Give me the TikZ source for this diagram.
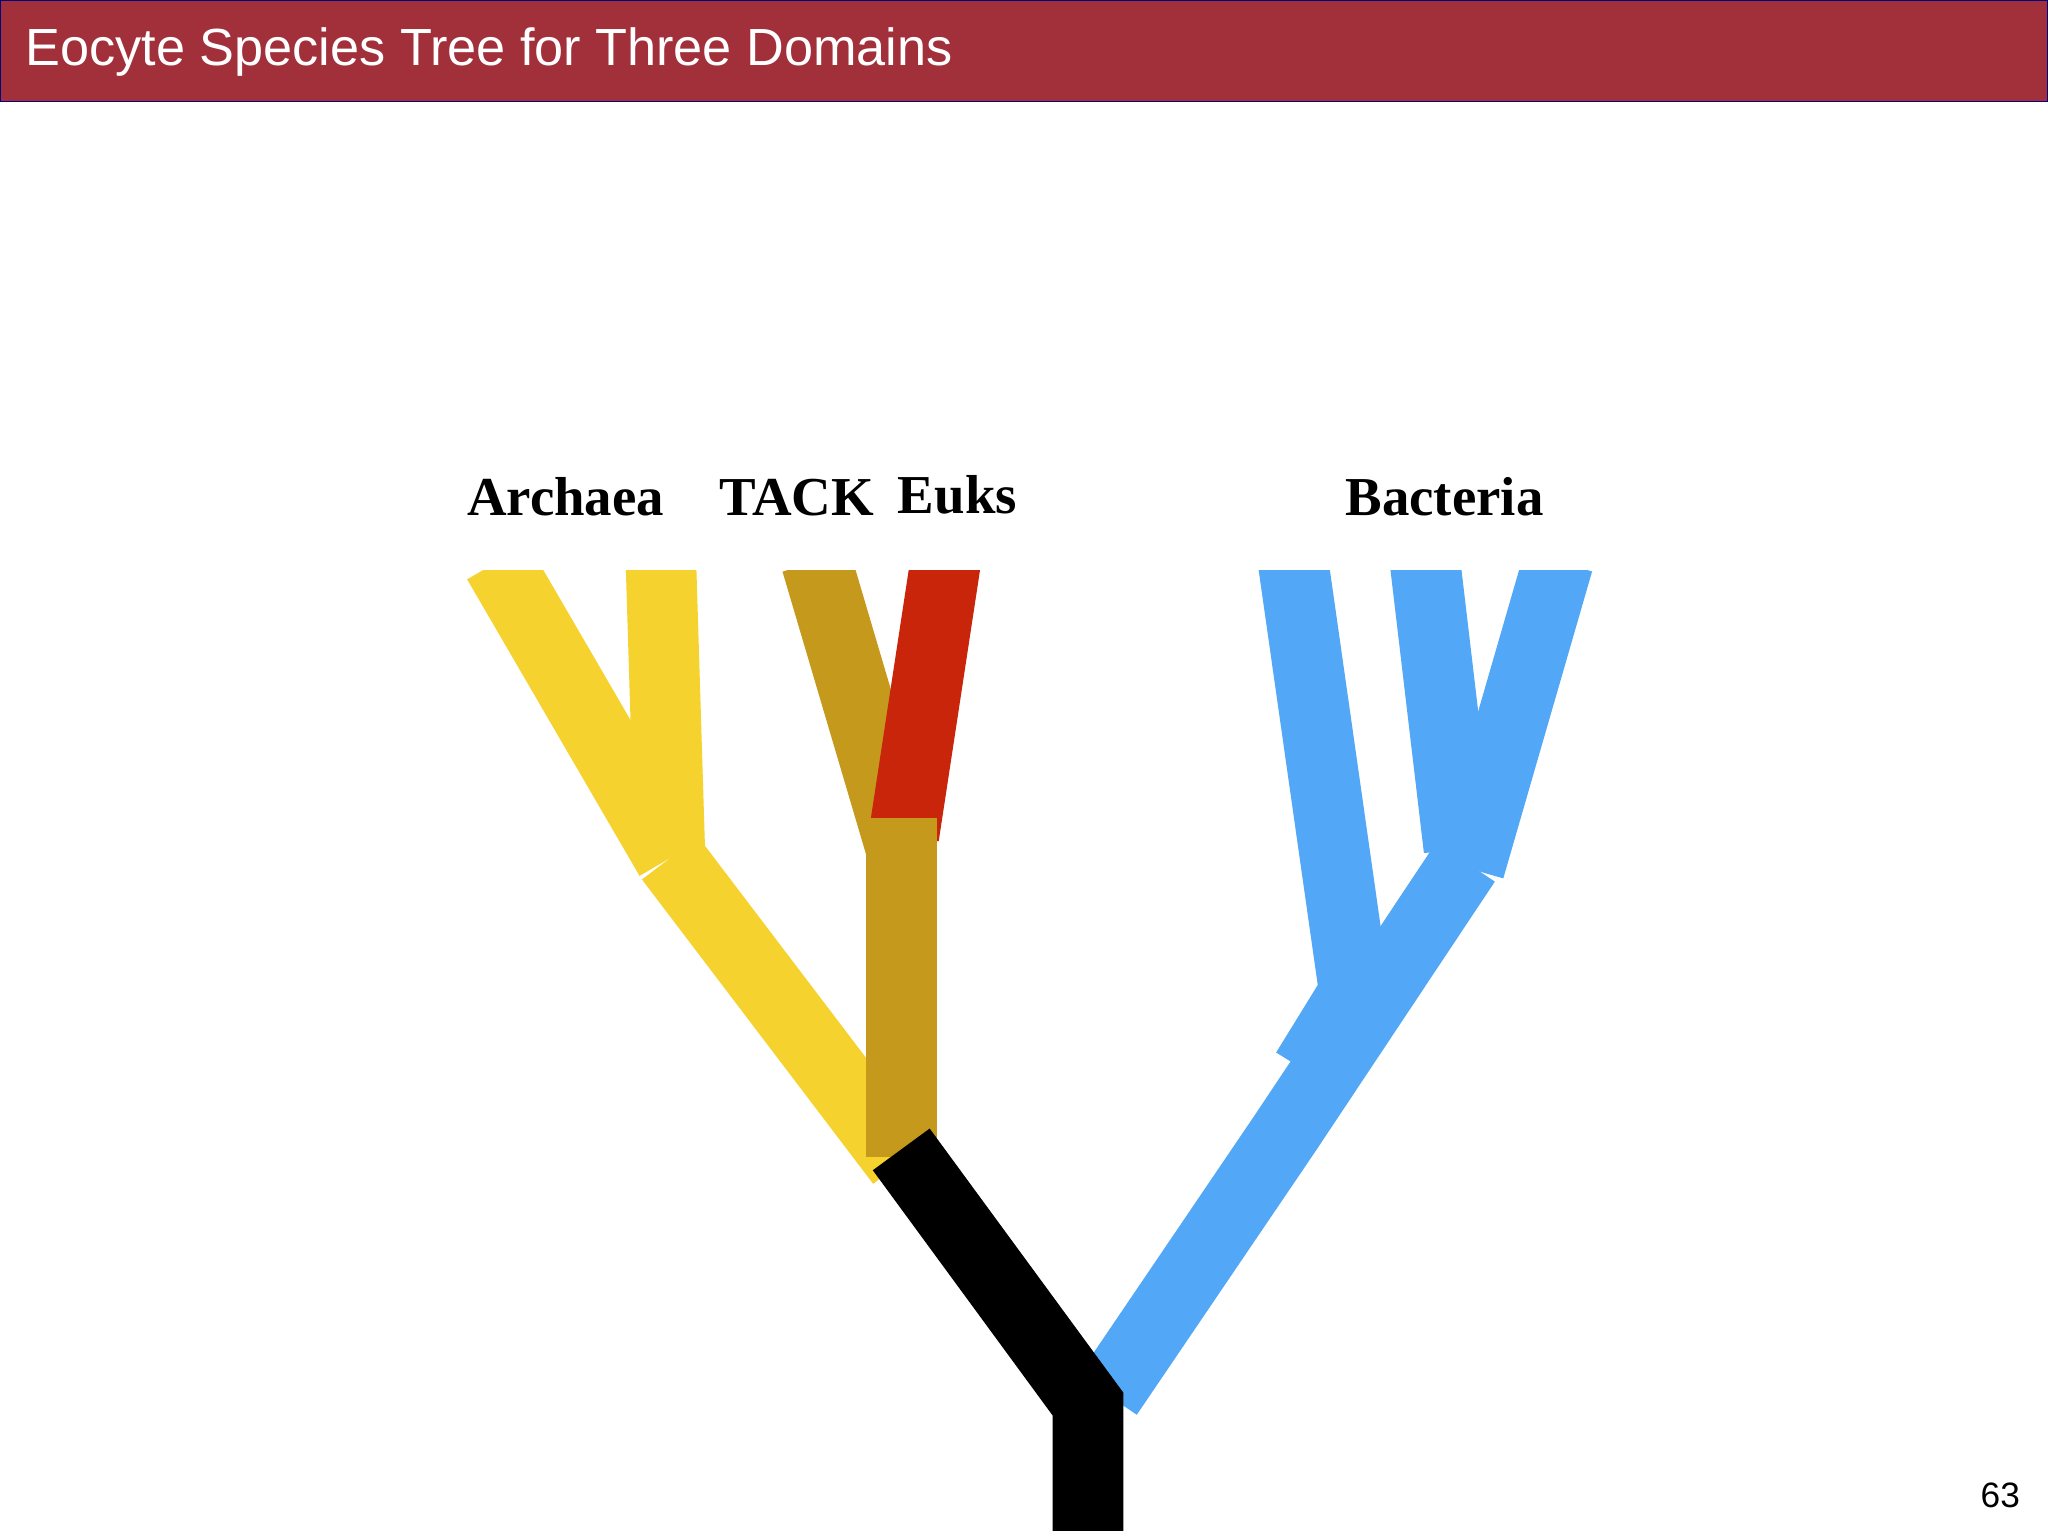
\documentclass[tikz,border=0pt]{standalone}
\usepackage{fontspec}
\setmainfont{Liberation Serif}
\newfontfamily\hsans{Liberation Sans}
\definecolor{hdr}{HTML}{A2303B}
\definecolor{yel}{HTML}{F5D22D}
\definecolor{tan}{HTML}{C4991C}
\definecolor{euk}{HTML}{C8250A}
\definecolor{blu}{HTML}{52A8F7}
\tikzset{br/.style={line width=54pt,line cap=butt,line join=miter},
  lab/.style={font=\fontsize{42}{46}\selectfont\bfseries,anchor=base}}
\begin{document}
\begin{tikzpicture}[x=1pt,y=-1pt]
\useasboundingbox (0,0) rectangle (1568,1176);
\fill[white] (0,0) rectangle (1568,1176);
\fill[hdr,draw=blue!50!black,line width=0.8pt] (0.5,0.5) rectangle (1567.5,78);
\node[anchor=west,text=white,font=\hsans\fontsize{40}{44}\selectfont] (title) at (16,40) {Eocyte Species Tree for Three Domains};
\node[anchor=east,font=\hsans\fontsize{27}{30}\selectfont] (pg) at (1550,1145) {63};
\begin{scope}
\clip (0,437) rectangle (1568,1172);
\draw[br,blu] (848,1068) -- (985,866) -- (1122,660);
\draw[br,blu] (990,430) -- (1037,760) -- (1000,820);
\draw[br,blu] (1091,430) -- (1117,650);
\draw[br,blu] (1193,430) -- (1125,665);
\draw[br,yel] (381,430) -- (513,657);
\draw[br,yel] (506,430) -- (513,657);
\draw[br,yel] (513,657) -- (690,890);
\draw[br,tan] (625,430) -- (690,650);
\draw[br,euk] (724,430) -- (692,640);
\fill[tan] (663,626) rectangle (717,886);
\draw[br,black] (690,880) -- (833,1075) -- (833,1180);
\end{scope}
\node[lab] (arch) at (433,395) {Archaea};
\node[lab] (tack) at (610,395) {TACK};
\node[lab] (euks) at (733,393) {Euks};
\node[lab] (bact) at (1106,395) {Bacteria};
\end{tikzpicture}
\end{document}
